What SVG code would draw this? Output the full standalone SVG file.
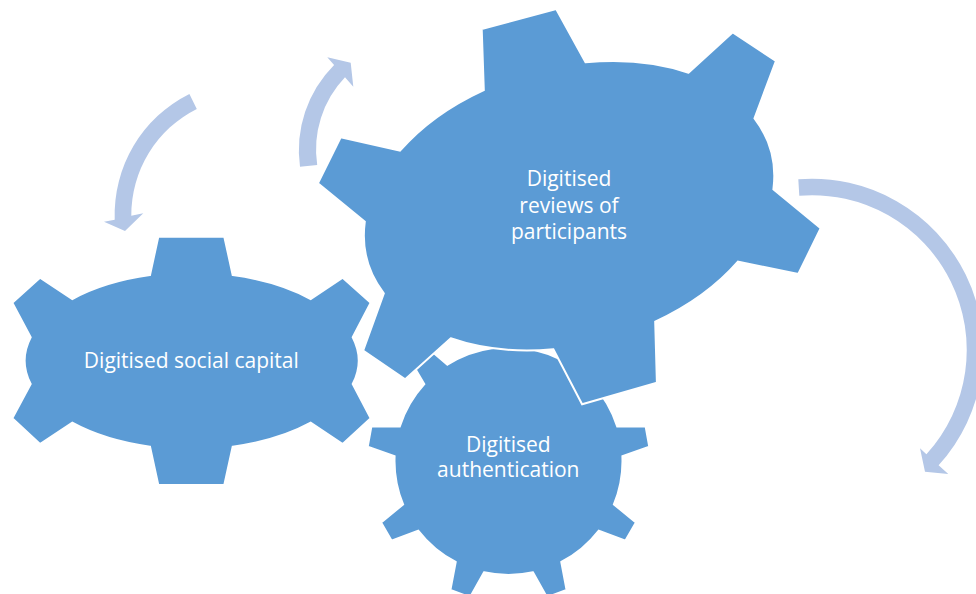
<svg xmlns="http://www.w3.org/2000/svg" width="976" height="594" viewBox="0 0 976 594">
<style>
.gear{fill:#5B9BD5;stroke:#FFFFFF;stroke-width:2;stroke-linejoin:miter}
.arrow{fill:#B4C7E7}
.lbl{font-family:"Open Sans","Noto Sans","Liberation Sans",sans-serif;font-size:21px;fill:#FFFFFF;text-anchor:middle}
</style>
<rect width="976" height="594" fill="#FFFFFF"/>
<g id="gear-social-capital">
<path class="gear" d="M150,275 L158.3,236.7 L224.3,236.7 L232.7,275 A166.5,88 0 0 1 310.7,299 L342.7,277.7 L370.7,302.7 L352.7,337.3 A166.5,88 0 0 1 352.7,384 L370.7,418.3 L342.7,444 L310.7,422.7 A166.5,88 0 0 1 232.7,446.7 L224.3,485 L158.3,485 L150,446.7 A166.5,88 0 0 1 72.3,422.7 L40,444 L12.3,418.3 L30.7,384 A166.5,88 0 0 1 30.7,337.3 L12.3,302.7 L40,277.7 L72.3,299 A166.5,88 0 0 1 150,275 Z"/>
<text class="lbl" x="191.3" y="367.7">Digitised social capital</text>
</g>
<g id="gear-authentication">
<path class="gear" d="M617.2,426.5 L645.6,426.2 L649.3,446.8 L622.4,456.2 A114,114 0 0 1 613.9,504.4 L635.9,522.5 L625.5,540.6 L598.8,530.6 A114,114 0 0 1 561.3,562 L566.6,590 L546.9,597.2 L533,572.3 A114,114 0 0 1 484,572.3 L470.1,597.2 L450.4,590 L455.7,562 A114,114 0 0 1 418.2,530.6 L391.5,540.6 L381.1,522.5 L403.1,504.4 A114,114 0 0 1 394.6,456.2 L367.7,446.8 L371.4,426.2 L399.8,426.5 A114,114 0 0 1 424.3,384.1 L409.8,359.6 L425.8,346.2 L447.4,364.7 A114,114 0 0 1 493.4,348 L498,319.9 L519,319.9 L523.6,348 A114,114 0 0 1 569.6,364.7 L591.2,346.2 L607.2,359.6 L592.7,384.1 A114,114 0 0 1 617.2,426.5 Z"/>
<text class="lbl" x="508.3" y="451.7">Digitised</text>
<text class="lbl" x="508.3" y="477.3">authentication</text>
</g>
<g id="gear-reviews">
<path class="gear" d="M483.8,90 L481.7,29 L556.2,9 L585.5,62.3 A208.8,139 -14.9 0 1 688.6,72.7 L732.8,32.3 L775.9,61 L754.5,118.3 A208.8,139 -14.9 0 1 773.4,189.3 L820.7,228.3 L798.3,274 L737.9,261.7 A208.8,139 -14.9 0 1 655.2,321.7 L656.9,382.7 L582.1,404.3 L553.4,349.3 A208.8,139 -14.9 0 1 450.7,338.3 L405.2,379.3 L363.1,350.7 L383.8,293.3 A208.8,139 -14.9 0 1 364.8,221.7 L317.9,183.3 L340.7,137.3 L400,150.7 A208.8,139 -14.9 0 1 483.8,90 Z"/>
<text class="lbl" x="569" y="186">Digitised</text>
<text class="lbl" x="569" y="212.5">reviews of</text>
<text class="lbl" x="569" y="239">participants</text>
</g>
<g id="connectors">
<path class="arrow" d="M189.4,93.9 A135.4,135.4 0 0 0 114.7,219.7 L104,221.7 L125,231 L143.3,213.3 L131.3,215.8 A118.7,118.7 0 0 1 196.8,108.9 Z"/>
<path class="arrow" d="M300,166.7 A121,121 0 0 1 334.1,64.9 L327.3,57.3 L350.7,62.7 L353.3,86.7 L345,77.3 A104.5,104.5 0 0 0 317.2,165 Z"/>
<path class="arrow" d="M798.3,179.3 A171.3,171.3 0 0 1 938.6,465.3 L948.3,474 L925,471.7 L920,448.3 L926.4,454.2 A154.8,154.8 0 0 0 799.3,195.7 Z"/>
</g>
</svg>
